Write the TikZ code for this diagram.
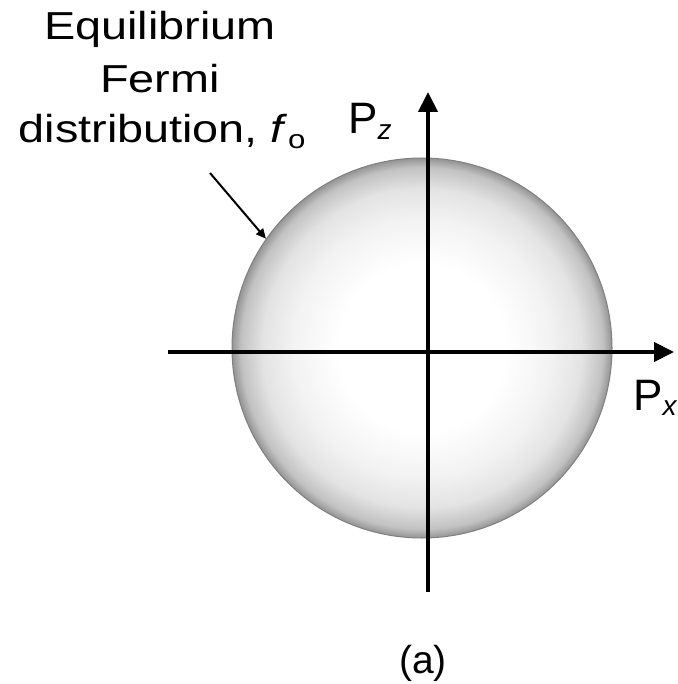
\documentclass[tikz,border=0pt]{standalone}
\usepackage{fontspec}
\setmainfont{Liberation Sans}
\usetikzlibrary{arrows.meta}
\pgfdeclareradialshading{ballgray}{\pgfpoint{0bp}{0bp}}{%
  color(0bp)=(white); color(11bp)=(white); color(17bp)=(black!5);
  color(21bp)=(black!11); color(23.8bp)=(black!24); color(25bp)=(black!42); color(50bp)=(black!42)}
\tikzset{
  axis/.style={line width=4pt, -{Triangle[length=20pt,width=19pt]}},
  pointer/.style={line width=2pt, -{Triangle[length=10pt,width=9pt]}},
  lbl/.style={inner sep=0pt, font=\fontsize{39}{50}\selectfont},
  ball/.style={circle, minimum size=380pt, inner sep=0pt, shading=ballgray, draw=black!50, line width=1pt}
}
\newcommand{\wide}[1]{\scalebox{1.2}[1]{#1}}
\begin{document}
\begin{tikzpicture}[x=1pt,y=-1pt]
\useasboundingbox (0,0) rectangle (677,684);
\node[ball] (ball) at (422,348) {};
\coordinate (xs) at (168,352);
\coordinate (xe) at (674,352);
\coordinate (zs) at (428,592);
\coordinate (ze) at (428,92);
\draw[axis] (xs) -- (xe);
\draw[axis] (zs) -- (ze);
\node[lbl, anchor=base] (t1) at (160,40) {\wide{Equilibrium}};
\node[lbl, anchor=base] (t2) at (160,93) {\wide{Fermi}};
\node[lbl, anchor=base] (t3) at (162,143) {\wide{distribution, \textit{f}\raisebox{-0.25ex}{\fontsize{26}{30}\selectfont o}}};
\coordinate (ptr) at (210,173);
\draw[pointer] (ptr) -- (ball.145);
\node[lbl, anchor=base west, font=\fontsize{44}{50}\selectfont] (pz) at (348,134) {P\raisebox{-0.25ex}{\fontsize{28}{30}\selectfont\textit{z}}};
\node[lbl, anchor=base west, font=\fontsize{44}{50}\selectfont] (px) at (633,410) {P\raisebox{-0.25ex}{\fontsize{28}{30}\selectfont\textit{x}}};
\node[lbl, anchor=base] (a) at (423,673) {(a)};
\end{tikzpicture}
\end{document}
